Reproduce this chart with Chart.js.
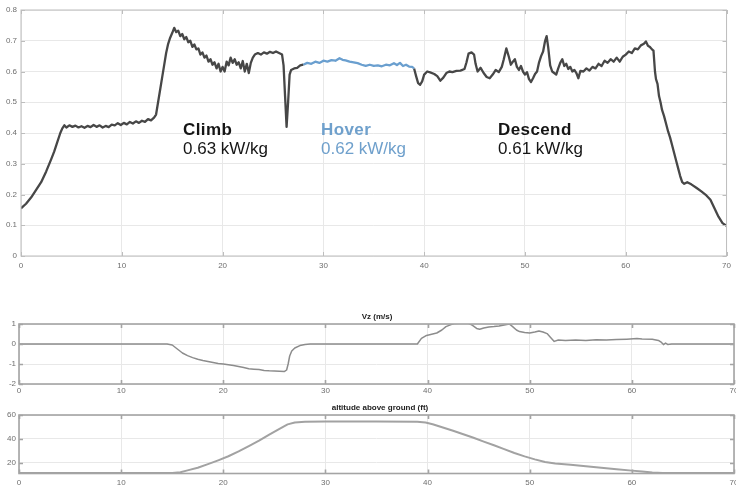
<!DOCTYPE html>
<html>
<head>
<meta charset="utf-8">
<script src="https://cdn.jsdelivr.net/npm/chart.js@4.4.1/dist/chart.umd.min.js"></script>
<style>
  html, body { margin: 0; padding: 0; background: #fff; overflow: hidden; }
  #wrap { position: relative; width: 736px; height: 488px; overflow: hidden; }
  canvas { position: absolute; left: 0; }
  .note { position: absolute; font-family: "Liberation Sans", Arial, sans-serif; font-size: 17px; line-height: 19px; white-space: nowrap; }
  .note b { font-weight: bold; letter-spacing: 0.4px; }
  .ttl { position: absolute; font-family: "Liberation Sans", Arial, sans-serif; font-size: 8px; font-weight: bold; color: #222; white-space: nowrap; transform: translateX(-50%); }
</style>
</head>
<body>
<div id="wrap">
  <canvas id="cPower" width="736" height="275" style="top:0"></canvas>
  <canvas id="cVz" width="745" height="100" style="top:300px"></canvas>
  <canvas id="cAlt" width="745" height="88" style="top:400px"></canvas>
  <div class="note" style="left:183px;top:120px;color:#151515"><b>Climb</b><br>0.63 kW/kg</div>
  <div class="note" style="left:321px;top:120px;color:#6fa0cc"><b>Hover</b><br>0.62 kW/kg</div>
  <div class="note" style="left:498px;top:120px;color:#151515"><b>Descend</b><br>0.61 kW/kg</div>
  <div class="ttl" style="left:377px;top:312px">Vz (m/s)</div>
  <div class="ttl" style="left:380px;top:403px">altitude above ground (ft)</div>
</div>
<script>
// ---------- data ----------
const timeTicks = [0, 10, 20, 30, 40, 50, 60, 70];
const powerTicks = [0, 0.1, 0.2, 0.3, 0.4, 0.5, 0.6, 0.7, 0.8];
const vzTicks = [-2, -1, 0, 1];
const altTicks = [20, 40, 60];

const climbTime = [0,0.5,1,1.5,2,2.5,3,3.3,3.6,3.9,4.1,4.3,4.5,4.8,5.1,5.4,5.7,6.0,6.3,6.6,6.9,7.2,7.5,7.8,8.1,8.4,8.7,9.0,9.3,9.6,9.9,10.2,10.5,10.8,11.1,11.4,11.7,12.0,12.3,12.6,12.9,13.2,13.4,13.6,13.8,14.0,14.2,14.4,14.6,14.8,15.0,15.2,15.4,15.6,15.8,16.0,16.2,16.4,16.6,16.8,17.0,17.2,17.4,17.6,17.8,18.0,18.2,18.4,18.6,18.8,19.0,19.2,19.4,19.6,19.8,20.0,20.2,20.4,20.6,20.8,21.0,21.2,21.4,21.6,21.8,22.0,22.2,22.4,22.6,22.8,23.0,23.2,23.5,23.8,24.1,24.4,24.7,25.0,25.3,25.6,25.9,26.05,26.2,26.35,26.5,26.65,26.8,27.1,27.4,27.7,28.0];
const climbPower = [0.155,0.17,0.19,0.215,0.24,0.275,0.315,0.34,0.37,0.4,0.415,0.425,0.418,0.425,0.42,0.424,0.418,0.422,0.417,0.423,0.419,0.426,0.42,0.425,0.418,0.423,0.419,0.427,0.425,0.432,0.426,0.433,0.428,0.436,0.431,0.438,0.433,0.44,0.436,0.445,0.441,0.45,0.46,0.5,0.54,0.58,0.62,0.66,0.69,0.71,0.725,0.742,0.728,0.733,0.715,0.722,0.705,0.712,0.695,0.7,0.68,0.688,0.672,0.675,0.655,0.662,0.645,0.652,0.632,0.64,0.622,0.63,0.61,0.625,0.6,0.615,0.6,0.632,0.62,0.645,0.628,0.64,0.622,0.63,0.61,0.634,0.6,0.625,0.595,0.628,0.645,0.655,0.66,0.655,0.662,0.658,0.664,0.66,0.665,0.66,0.655,0.62,0.52,0.42,0.5,0.59,0.605,0.61,0.612,0.62,0.622];

const hoverTime = [28.0,28.4,28.8,29.2,29.6,30.0,30.4,30.8,31.2,31.6,31.9,32.2,32.6,33.0,33.4,33.8,34.2,34.6,35.0,35.4,35.8,36.2,36.6,37.0,37.3,37.6,37.9,38.2,38.5,38.8,39.0];
const hoverPower = [0.622,0.628,0.625,0.632,0.628,0.635,0.632,0.637,0.635,0.643,0.638,0.636,0.632,0.63,0.627,0.622,0.618,0.622,0.618,0.62,0.617,0.622,0.62,0.627,0.621,0.628,0.618,0.622,0.616,0.615,0.61];

const descendTime = [39.0,39.2,39.4,39.6,39.8,40.0,40.3,40.6,41.0,41.3,41.6,41.9,42.2,42.5,42.8,43.2,43.6,44.0,44.2,44.4,44.7,44.95,45.1,45.3,45.6,45.9,46.2,46.5,46.8,47.1,47.4,47.7,47.9,48.15,48.4,48.6,48.8,49.0,49.2,49.4,49.6,49.8,50.0,50.2,50.4,50.6,50.8,51.0,51.2,51.4,51.6,51.8,52.0,52.15,52.3,52.5,52.7,52.9,53.1,53.3,53.5,53.7,53.9,54.1,54.3,54.5,54.7,54.9,55.1,55.3,55.5,55.8,56.1,56.4,56.7,57.0,57.3,57.6,57.9,58.2,58.5,58.8,59.1,59.4,59.7,60.0,60.3,60.6,60.9,61.2,61.5,61.8,62.0,62.2,62.4,62.6,62.75,62.9,63.0,63.15,63.3,63.45,63.6,63.8,64.0,64.2,64.4,64.6,64.8,65.0,65.2,65.4,65.6,65.8,66.1,66.5,67.0,67.5,68.0,68.4,68.8,69.2,69.6,70.0];
const descendPower = [0.61,0.585,0.562,0.557,0.568,0.59,0.6,0.597,0.592,0.585,0.57,0.58,0.595,0.6,0.598,0.602,0.603,0.608,0.63,0.658,0.662,0.655,0.625,0.6,0.612,0.595,0.582,0.578,0.59,0.605,0.598,0.615,0.64,0.675,0.648,0.622,0.632,0.64,0.615,0.605,0.618,0.6,0.59,0.598,0.575,0.566,0.578,0.592,0.6,0.63,0.65,0.665,0.7,0.715,0.68,0.62,0.6,0.595,0.59,0.61,0.628,0.64,0.618,0.625,0.608,0.615,0.6,0.605,0.595,0.578,0.602,0.6,0.61,0.603,0.615,0.61,0.625,0.618,0.635,0.628,0.64,0.632,0.645,0.632,0.648,0.655,0.665,0.66,0.675,0.672,0.685,0.69,0.698,0.684,0.68,0.672,0.668,0.6,0.575,0.56,0.52,0.5,0.475,0.455,0.43,0.405,0.385,0.36,0.335,0.31,0.285,0.26,0.24,0.235,0.24,0.233,0.222,0.21,0.197,0.183,0.155,0.128,0.107,0.098];

const vzTime = [0,14.5,15.0,15.5,16.0,16.5,17.0,17.5,18.0,18.5,19.0,19.5,20.0,20.5,21.0,21.5,22.0,22.5,23.0,23.5,24.0,24.5,25.0,25.5,26.0,26.2,26.35,26.5,26.7,27.0,27.5,28.0,28.5,39.0,39.4,39.9,40.5,40.9,41.4,41.8,42.3,42.6,43.5,44.0,44.4,44.8,45.1,45.5,46.0,46.5,47.0,47.5,48.0,48.3,48.7,49.0,49.5,50.0,50.5,50.9,51.3,51.7,52.0,52.4,52.8,53.5,54.5,55.5,56.5,57.5,58.5,59.5,60.5,61.0,62.0,62.6,62.9,63.1,63.3,63.5,63.9,70];
const vzValue = [0,0,-0.05,-0.25,-0.45,-0.58,-0.68,-0.76,-0.82,-0.87,-0.92,-0.97,-1.0,-1.04,-1.08,-1.13,-1.18,-1.24,-1.26,-1.28,-1.32,-1.34,-1.35,-1.36,-1.37,-1.3,-1.0,-0.6,-0.35,-0.2,-0.08,-0.03,0,0,0.28,0.43,0.5,0.55,0.7,0.87,0.97,1.02,1.05,1.04,0.93,0.78,0.74,0.8,0.85,0.87,0.9,0.95,1.0,0.88,0.7,0.62,0.57,0.55,0.6,0.65,0.6,0.52,0.35,0.13,0.2,0.18,0.2,0.18,0.21,0.2,0.22,0.24,0.27,0.25,0.24,0.18,0.08,-0.03,0.05,-0.02,0,0];

const altTime = [0,15.0,15.8,16.5,17.5,18.5,19.5,20.5,21.5,22.5,23.5,24.5,25.5,26.3,27.0,28.0,30,35,39,39.8,40.5,41.5,42.5,43.5,44.5,45.5,46.5,47.5,48.5,49.5,50.5,51.5,52.5,54,55.5,57,58.5,60,61,62,63,70];
const altValue = [11.6,11.6,12.3,13.8,16.0,19.0,22.2,25.6,29.6,34.0,38.6,43.6,48.5,52.2,53.8,54.3,54.5,54.5,54.4,53.8,52.3,49.6,46.8,44.0,41.0,37.8,34.8,31.5,28.3,25.5,23.0,20.8,19.6,18.4,17.2,16.0,14.8,13.6,12.8,12.1,11.6,11.6];

// ---------- helpers ----------
const FONT = '"Liberation Sans", Arial, sans-serif';
const pts = (xs, ys) => xs.map((x, i) => ({ x: x, y: ys[i] }));

const framePlugin = {
  id: 'frame',
  afterDraw(chart, args, o) {
    const { ctx, chartArea: a, scales } = chart;
    ctx.save();
    ctx.strokeStyle = o.color;
    ctx.lineWidth = o.width;
    ctx.beginPath();
    scales.x.ticks.forEach(t => {
      const px = Math.round(scales.x.getPixelForValue(t.value)) + 0.5;
      ctx.moveTo(px, a.top); ctx.lineTo(px, a.top + o.tick);
      ctx.moveTo(px, a.bottom); ctx.lineTo(px, a.bottom - o.tick);
    });
    scales.y.ticks.forEach(t => {
      const py = Math.round(scales.y.getPixelForValue(t.value)) + 0.5;
      ctx.moveTo(a.left, py); ctx.lineTo(a.left + o.tick, py);
      ctx.moveTo(a.right, py); ctx.lineTo(a.right - o.tick, py);
    });
    ctx.stroke();
    ctx.strokeRect(a.left, a.top, a.right - a.left, a.bottom - a.top);
    ctx.restore();
  }
};

function makeChart(id, datasets, cfg) {
  return new Chart(document.getElementById(id), {
    type: 'line',
    data: { datasets: datasets },
    plugins: [framePlugin],
    options: {
      responsive: false,
      animation: false,
      events: [],
      layout: { padding: cfg.padding },
      elements: { point: { radius: 0 }, line: { tension: 0, borderJoinStyle: 'round' } },
      plugins: {
        legend: { display: false },
        tooltip: { enabled: false },
        title: { display: false },
        frame: { color: cfg.frameColor, width: cfg.frameWidth, tick: 4 }
      },
      scales: {
        x: {
          type: 'linear', min: 0, max: 70,
          afterBuildTicks: s => { s.ticks = timeTicks.map(v => ({ value: v })); },
          afterFit: s => { s.height = cfg.xHeight; },
          grid: { color: '#e8e8e8', lineWidth: 1, drawTicks: false },
          border: { display: false },
          ticks: { color: '#6e6e6e', font: { family: FONT, size: 8 }, padding: cfg.xPad, maxRotation: 0, autoSkip: false, callback: v => String(v) }
        },
        y: {
          type: 'linear', min: cfg.yMin, max: cfg.yMax,
          afterBuildTicks: s => { s.ticks = cfg.yTicks.map(v => ({ value: v })); },
          afterFit: s => { s.width = cfg.yWidth; },
          grid: { color: '#e8e8e8', lineWidth: 1, drawTicks: false },
          border: { display: false },
          ticks: { color: '#6e6e6e', font: { family: FONT, size: 8 }, padding: cfg.yPad, autoSkip: false, callback: v => String(v) }
        }
      }
    }
  });
}

// ---------- charts ----------
makeChart('cPower', [
  { data: pts(climbTime, climbPower), borderColor: '#474747', borderWidth: 2.3 },
  { data: pts(hoverTime, hoverPower), borderColor: '#6a9fcf', borderWidth: 2.3 },
  { data: pts(descendTime, descendPower), borderColor: '#474747', borderWidth: 2.3 }
], { padding: { top: 10, right: 7, left: 0, bottom: 0 }, xHeight: 19, yWidth: 21, xPad: 5, yPad: 4,
     yMin: 0, yMax: 0.8, yTicks: powerTicks, frameColor: '#bdbdbd', frameWidth: 1 });

makeChart('cVz', [
  { data: pts(vzTime, vzValue), borderColor: '#8c8c8c', borderWidth: 1.5 }
], { padding: { top: 24, right: 11, left: 0, bottom: 0 }, xHeight: 16, yWidth: 19, xPad: 2, yPad: 3,
     yMin: -2, yMax: 1, yTicks: vzTicks, frameColor: '#a4a4a4', frameWidth: 1.6 });

makeChart('cAlt', [
  { data: pts(altTime, altValue), borderColor: '#a2a2a2', borderWidth: 2 }
], { padding: { top: 15, right: 11, left: 0, bottom: 0 }, xHeight: 14.5, yWidth: 19, xPad: 4, yPad: 3,
     yMin: 11.2, yMax: 60, yTicks: altTicks, frameColor: '#a4a4a4', frameWidth: 1.6 });
</script>
</body>
</html>
